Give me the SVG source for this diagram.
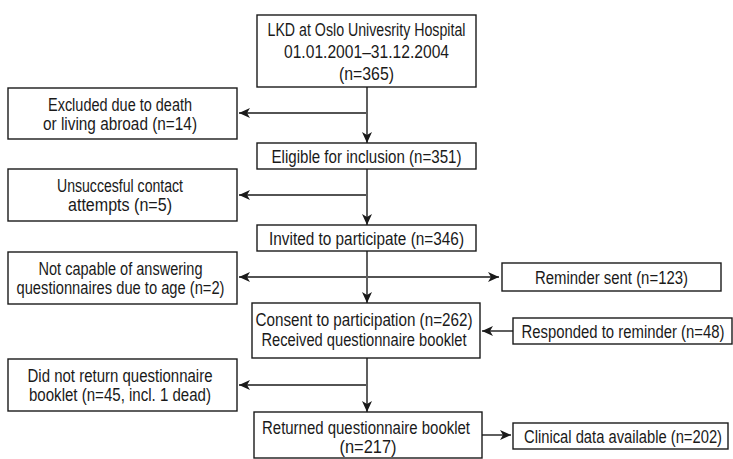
<svg xmlns="http://www.w3.org/2000/svg" width="733" height="459" viewBox="0 0 733 459">
<style>
.box{fill:#fff;stroke:#1a1a1a;stroke-width:1.4}
.t{font-family:"Liberation Sans","Arial",sans-serif;font-size:17.5px;fill:#1a1a1a;text-anchor:middle}
.c{stroke:#1a1a1a;stroke-width:1.4;fill:none;marker-end:url(#ah)}
</style>
<defs>
<marker id="ah" markerUnits="userSpaceOnUse" markerWidth="12" markerHeight="10" refX="11" refY="5" orient="auto">
<path d="M0,0 L11,5 L0,10 L3,5 Z" fill="#1a1a1a"/>
</marker>
</defs>
<rect width="733" height="459" fill="#fff"/>
<g id="connectors">
<line class="c" x1="367" y1="87" x2="367" y2="143"/>
<line class="c" x1="366" y1="113" x2="239" y2="113"/>
<line class="c" x1="367" y1="169" x2="367" y2="225"/>
<line class="c" x1="366" y1="195" x2="239" y2="195"/>
<line class="c" x1="367" y1="251" x2="367" y2="303"/>
<line class="c" x1="366" y1="277" x2="239" y2="277"/>
<line class="c" x1="368" y1="277" x2="499" y2="277"/>
<line class="c" x1="513" y1="331" x2="482" y2="331"/>
<line class="c" x1="367" y1="358" x2="367" y2="412"/>
<line class="c" x1="366" y1="385" x2="239" y2="385"/>
<line class="c" x1="482" y1="435" x2="511" y2="435"/>
</g>
<g id="n-lkd">
<rect class="box" x="257" y="15" width="219" height="72"/>
<text class="t" x="366.5" y="36" textLength="198" lengthAdjust="spacingAndGlyphs">LKD at Oslo Univesrity Hospital</text>
<text class="t" x="366.5" y="58" textLength="165" lengthAdjust="spacingAndGlyphs">01.01.2001–31.12.2004</text>
<text class="t" x="366.5" y="80" textLength="55" lengthAdjust="spacingAndGlyphs">(n=365)</text>
</g>
<g id="n-excluded">
<rect class="box" x="8" y="88" width="229" height="51"/>
<text class="t" x="120" y="110.5" textLength="144" lengthAdjust="spacingAndGlyphs">Excluded due to death</text>
<text class="t" x="120" y="129.5" textLength="154" lengthAdjust="spacingAndGlyphs">or living abroad (n=14)</text>
</g>
<g id="n-eligible">
<rect class="box" x="257" y="143" width="219" height="26"/>
<text class="t" x="366.5" y="162.5" textLength="190" lengthAdjust="spacingAndGlyphs">Eligible for inclusion (n=351)</text>
</g>
<g id="n-unsuccessful">
<rect class="box" x="8" y="169" width="229" height="52"/>
<text class="t" x="120" y="192" textLength="126" lengthAdjust="spacingAndGlyphs">Unsuccesful contact</text>
<text class="t" x="120" y="211" textLength="104" lengthAdjust="spacingAndGlyphs">attempts (n=5)</text>
</g>
<g id="n-invited">
<rect class="box" x="257" y="225" width="219" height="26"/>
<text class="t" x="366.5" y="244.5" textLength="195" lengthAdjust="spacingAndGlyphs">Invited to participate (n=346)</text>
</g>
<g id="n-notcapable">
<rect class="box" x="8" y="252" width="229" height="52"/>
<text class="t" x="120.5" y="275" textLength="164" lengthAdjust="spacingAndGlyphs">Not capable of answering</text>
<text class="t" x="120.5" y="294" textLength="208" lengthAdjust="spacingAndGlyphs">questionnaires due to age (n=2)</text>
</g>
<g id="n-reminder">
<rect class="box" x="502" y="263" width="219" height="28"/>
<text class="t" x="611.5" y="283.5" textLength="153" lengthAdjust="spacingAndGlyphs">Reminder sent (n=123)</text>
</g>
<g id="n-consent">
<rect class="box" x="252" y="303" width="228" height="55"/>
<text class="t" x="364" y="326" textLength="217" lengthAdjust="spacingAndGlyphs">Consent to participation (n=262)</text>
<text class="t" x="364" y="346" textLength="205" lengthAdjust="spacingAndGlyphs">Received questionnaire booklet</text>
</g>
<g id="n-responded">
<rect class="box" x="513" y="318" width="219" height="26"/>
<text class="t" x="623" y="337.5" textLength="203" lengthAdjust="spacingAndGlyphs">Responded to reminder (n=48)</text>
</g>
<g id="n-didnotreturn">
<rect class="box" x="8" y="359" width="229" height="52"/>
<text class="t" x="120" y="382" textLength="185" lengthAdjust="spacingAndGlyphs">Did not return questionnaire</text>
<text class="t" x="120" y="401" textLength="182" lengthAdjust="spacingAndGlyphs">booklet (n=45, incl. 1 dead)</text>
</g>
<g id="n-returned">
<rect class="box" x="254" y="412" width="228" height="46"/>
<text class="t" x="366" y="434" textLength="208" lengthAdjust="spacingAndGlyphs">Returned questionnaire booklet</text>
<text class="t" x="368" y="453" textLength="57" lengthAdjust="spacingAndGlyphs">(n=217)</text>
</g>
<g id="n-clinical">
<rect class="box" x="513" y="423" width="215" height="26"/>
<text class="t" x="623" y="442.5" textLength="198" lengthAdjust="spacingAndGlyphs">Clinical data available (n=202)</text>
</g>
</svg>
